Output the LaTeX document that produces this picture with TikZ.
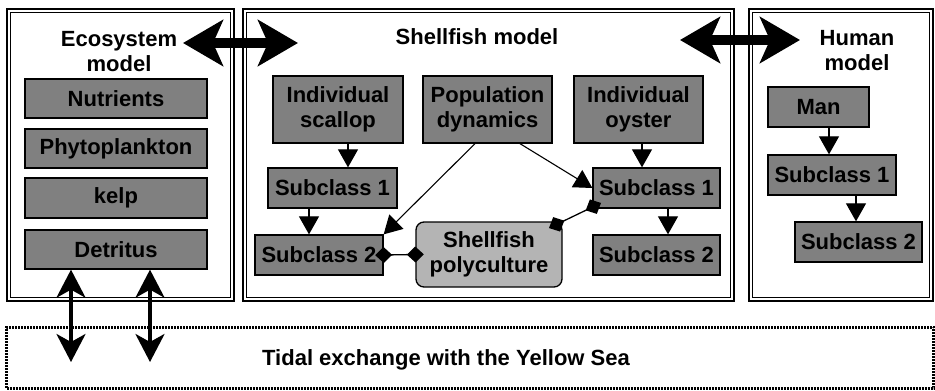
\documentclass[tikz,border=0pt]{standalone}
\usepackage{fontspec}
\setmainfont{Liberation Sans}
\usetikzlibrary{arrows.meta}

\definecolor{boxgray}{RGB}{128,128,128}
\definecolor{culturegray}{RGB}{180,180,180}
\newcommand{\boxfont}{\fontsize{22}{25}\selectfont\bfseries}

\tikzset{
  frame/.style={draw, double, double distance=2.2pt, line width=1.6pt},
  title/.style={align=center, font=\boxfont, inner sep=0pt},
  cls/.style={draw, line width=1.3pt, fill=boxgray, align=center, font=\boxfont, inner sep=0pt},
  culture/.style={cls, fill=culturegray, rounded corners=8pt},
  flow/.style={line width=1.1pt, -{Triangle[length=18pt,width=20pt]}},
  link/.style={line width=1.3pt, {Diamond[length=17pt,width=16pt]}-{Diamond[length=17pt,width=16pt]},
    shorten <=-8.5pt, shorten >=-8.5pt},
  bigarrow/.style={line width=10pt, {Stealth[length=40pt,width=46pt,inset=10pt]}-{Stealth[length=40pt,width=46pt,inset=10pt]}},
  tidearrow/.style={line width=3.5pt, {Stealth[length=28pt,width=29pt,inset=8pt]}-{Stealth[length=28pt,width=29pt,inset=8pt]}},
  tidebox/.style={draw=black, line width=3pt, dash pattern=on 2pt off 1pt}
}

\begin{document}
\begin{tikzpicture}[x=1pt,y=-1pt]
  \useasboundingbox (0,0) rectangle (935,391);

  % the three model frames
  \draw[frame] (8.7,10.7) rectangle (232.3,299.3);
  \draw[frame] (244.7,10.7) rectangle (732.3,299.3);
  \draw[frame] (750.7,10.7) rectangle (931.3,299.3);

  % titles
  \node[title] (ecotitle) at (119,52) {Ecosystem\\model};
  \node[title] (shelltitle) at (477,37) {Shellfish model};
  \node[title] (humantitle) at (857,51) {Human\\model};

  % ecosystem model
  \node[cls, minimum width=182pt, minimum height=39pt] (nutr) at (116,98.5) {Nutrients};
  \node[cls, minimum width=182pt, minimum height=39pt] (phyto) at (116,148.5) {Phytoplankton};
  \node[cls, minimum width=182pt, minimum height=40pt] (kelp) at (116,198) {kelp};
  \node[cls, minimum width=182pt, minimum height=39pt] (det) at (116,249.5) {Detritus};

  % shellfish model
  \node[cls, minimum width=130pt, minimum height=67pt] (scallop) at (338,109.5) {Individual\\scallop};
  \node[cls, minimum width=129pt, minimum height=67pt] (popdyn) at (487.5,109.5) {Population\\dynamics};
  \node[cls, minimum width=129pt, minimum height=67pt] (oyster) at (638.5,109.5) {Individual\\oyster};
  \node[cls, minimum width=129pt, minimum height=40pt] (subs1) at (332.5,188) {Subclass 1};
  \node[cls, minimum width=128pt, minimum height=40pt] (subs2) at (319,255) {Subclass 2};
  \node[culture, minimum width=146pt, minimum height=65pt] (poly) at (489,254.5) {Shellfish\\polyculture};
  \node[cls, minimum width=127pt, minimum height=40pt] (subo1) at (656.5,188) {Subclass 1};
  \node[cls, minimum width=127pt, minimum height=40pt] (subo2) at (656.5,255) {Subclass 2};

  % human model
  \node[cls, minimum width=101pt, minimum height=40pt] (man) at (818.5,107) {Man};
  \node[cls, minimum width=128pt, minimum height=40pt] (subh1) at (832,175) {Subclass 1};
  \node[cls, minimum width=127pt, minimum height=40pt] (subh2) at (858.5,242) {Subclass 2};

  % tidal exchange
  \node[tidebox, minimum width=927pt, minimum height=61pt] (tide) at (470,357.5) {};
  \node[title] (tidetext) at (446,360) {Tidal exchange with the Yellow Sea};

  % exchange between the models
  \coordinate (es-l) at (183,43);
  \coordinate (es-r) at (298,43);
  \coordinate (sh-l) at (680,40);
  \coordinate (sh-r) at (800,40);
  \draw[bigarrow] (es-l) -- (es-r);
  \draw[bigarrow] (sh-l) -- (sh-r);

  \coordinate (t1) at (71,362);
  \coordinate (t2) at (150,362);
  \draw[tidearrow] (t1) -- (t1 |- det.south);
  \draw[tidearrow] (t2) -- (t2 |- det.south);

  % class arrows
  \draw[flow] ([xshift=10pt]scallop.south) -- ([xshift=10pt]scallop.south |- subs1.north);
  \draw[flow] ([xshift=-23.5pt]subs1.south) -- ([xshift=-23.5pt]subs1.south |- subs2.north);
  \draw[flow] ([xshift=-12.5pt]popdyn.south) -- (subs2.north east);
  \draw[flow] ([xshift=32.5pt]popdyn.south) -- (subo1.west);
  \draw[flow] ([xshift=3.5pt]oyster.south) -- ([xshift=3.5pt]oyster.south |- subo1.north);
  \draw[flow] ([xshift=11.5pt]subo1.south) -- ([xshift=11.5pt]subo1.south |- subo2.north);
  \draw[flow] ([xshift=10.5pt]man.south) -- ([xshift=10.5pt]man.south |- subh1.north);
  \draw[flow] ([xshift=24pt]subh1.south) -- ([xshift=24pt]subh1.south |- subh2.north);

  % aggregation
  \draw[link] (subs2.east) -- (poly.west);
  \draw[link] ([xshift=-6pt,yshift=-3pt]poly.north east) -- ([xshift=1pt,yshift=2pt]subo1.south west);
\end{tikzpicture}
\end{document}
